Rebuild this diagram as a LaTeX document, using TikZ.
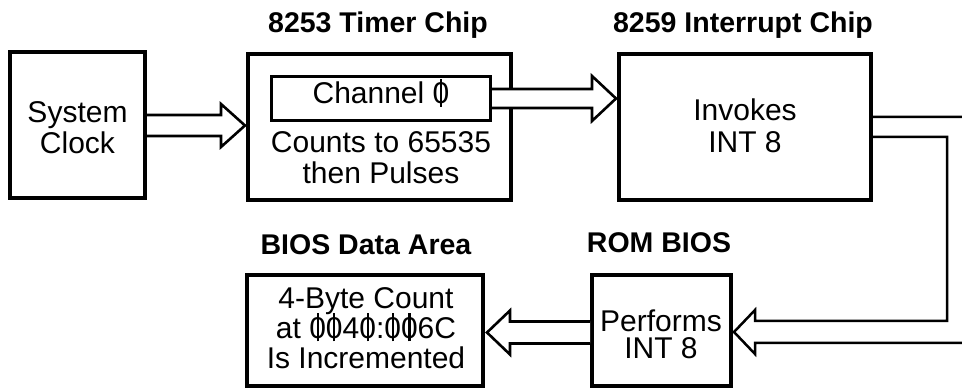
\documentclass[tikz,border=0pt]{standalone}
\usepackage{fontspec}
\setmainfont{Liberation Sans}
\usetikzlibrary{calc}
\newcommand{\zs}{\ooalign{0\cr\hidewidth\rule[-0.1em]{0.075em}{0.93em}\hidewidth\cr}}
\begin{document}
\begin{tikzpicture}[x=1pt,y=-1pt,
  box/.style={draw, line width=4pt, inner sep=0pt},
  txt/.style={align=center, inner sep=0pt, font=\fontsize{30}{31}\selectfont},
  ttl/.style={inner sep=0pt, anchor=base, font=\fontsize{28.5}{30}\selectfont\bfseries},
  harrow/.style={draw, fill=white, line width=2.6pt, line join=miter},
  loopline/.style={draw, line width=2.5pt, line join=miter}]
\useasboundingbox (0,0) rectangle (962,390);
\clip (0,0) rectangle (962,390);

% boxes
\node[box, minimum width=135pt, minimum height=146pt] (clk) at (77.5,125) {};
\node[box, minimum width=263pt, minimum height=146pt] (timer) at (379.5,127) {};
\node[box, line width=3pt, minimum width=219pt, minimum height=44pt] (chan) at (381,98.5) {};
\node[box, minimum width=252pt, minimum height=146pt] (pic) at (745,127) {};
\node[box, minimum width=139pt, minimum height=111pt] (rom) at (661.5,330.5) {};
\node[box, minimum width=236pt, minimum height=111pt] (data) at (365,330.5) {};

% titles
\node[ttl] (t1) at (378,33) {8253 Timer Chip};
\node[ttl] (t2) at (743,33) {8259 Interrupt Chip};
\node[ttl] (t3) at (366,255) {BIOS Data Area};
\node[ttl] (t4) at (659,253) {ROM BIOS};

% texts
\node[txt] (clkt) at (77.5,127.5) {System\\Clock};
\node[txt, anchor=base] (chant) at (381,104) {Channel \zs};
\node[txt] (timert) at (381,158) {Counts to 65535\\then Pulses};
\node[txt, font=\fontsize{30}{32}\selectfont] (pict) at (745,126) {Invokes\\INT 8};
\node[txt, font=\fontsize{30}{27}\selectfont] (romt) at (661,334) {Performs\\INT 8};
\node[txt, font=\fontsize{30}{30}\selectfont] (datat) at (366,328) {4-Byte Count\\at \zs\zs4\zs:\zs\zs6C\\Is Incremented};

% arrow 1: clock -> timer
\coordinate (a1s) at ($(clk.east)+(0,0.5)$);
\coordinate (a1t) at ($(timer.west |- a1s)+(-1,0)$);
\draw[harrow] ($(a1s)+(0,-10.5)$) -- ($(a1t)+(-24,-10.5)$) -- ($(a1t)+(-24,-21.5)$) -- (a1t)
  -- ($(a1t)+(-24,21.5)$) -- ($(a1t)+(-24,10.5)$) -- ($(a1s)+(0,10.5)$);

% arrow 2: channel -> 8259
\coordinate (a2s) at (chan.east);
\coordinate (a2t) at ($(pic.west |- a2s)+(-1,0)$);
\draw[harrow] ($(a2s)+(0,-9.5)$) -- ($(a2t)+(-24,-9.5)$) -- ($(a2t)+(-24,-22.5)$) -- (a2t)
  -- ($(a2t)+(-24,22.5)$) -- ($(a2t)+(-24,9.5)$) -- ($(a2s)+(0,9.5)$);

% arrow 3: ROM BIOS -> data area
\coordinate (a3s) at ($(rom.west)+(0,2)$);
\coordinate (a3t) at ($(data.east |- a3s)+(2,0)$);
\draw[harrow] ($(a3s)+(0,-11)$) -- ($(a3t)+(23,-11)$) -- ($(a3t)+(23,-22)$) -- (a3t)
  -- ($(a3t)+(23,22)$) -- ($(a3t)+(23,11)$) -- ($(a3s)+(0,11)$);

% arrow 4: 8259 -> ROM BIOS (wrapping round the right edge)
\coordinate (a4t) at ($(rom.east)+(1,1.5)$);
\draw[loopline] ($(pic.east)+(0,10)$) -- (947,137) -- (947,321) -- ($(a4t)+(21,-11)$)
  -- ($(a4t)+(21,-22)$) -- (a4t) -- ($(a4t)+(21,22)$) -- ($(a4t)+(21,11)$)
  -- (985,343) -- (985,117) -- ($(pic.east)+(0,-10)$);
\end{tikzpicture}
\end{document}
